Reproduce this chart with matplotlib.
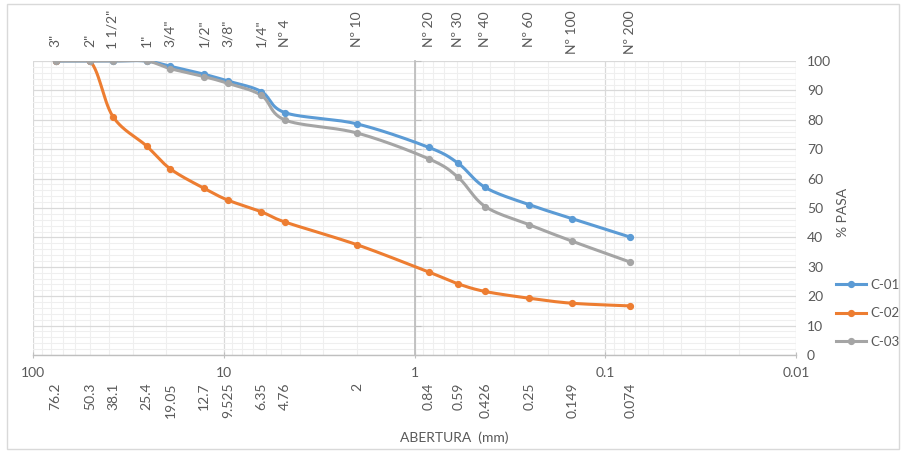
import numpy as np
import matplotlib
matplotlib.use("Agg")
import matplotlib.pyplot as plt
from matplotlib.patches import Rectangle
from matplotlib.ticker import FixedLocator, MultipleLocator, NullFormatter

plt.rcParams['font.family'] = ['Lato', 'DejaVu Sans']

# ── data: sieve series, openings (mm) and % passing ─────────────────────────
aberturas = [76.2, 50.3, 38.1, 25.4, 19.05, 12.7, 9.525, 6.35, 4.76, 2,
             0.84, 0.59, 0.426, 0.25, 0.149, 0.074]
tamices = ['3"', '2"', '1 1/2"', '1"', '3/4"', '1/2"', '3/8"', '1/4"', 'Nº 4',
           'Nº 10', 'Nº 20', 'Nº 30', 'Nº 40', 'Nº 60', 'Nº 100', 'Nº 200']
c01 = [100, 100, 100, 100, 98.2, 95.5, 93.2, 89.6, 82.4, 78.6,
       70.6, 65.2, 57.0, 51.1, 46.4, 40.1]
c02 = [100, 100, 81.1, 71.1, 63.3, 56.7, 52.7, 48.7, 45.2, 37.5,
       28.2, 24.2, 21.6, 19.3, 17.6, 16.7]
c03 = [100, 100, 100, 100, 97.4, 94.7, 92.4, 88.3, 79.9, 75.5,
       66.7, 60.4, 50.5, 44.3, 38.7, 31.6]
decadas = [100, 10, 1, 0.1, 0.01]

series = [("C-01", c01, "#5b9bd5"),
          ("C-02", c02, "#ed7d31"),
          ("C-03", c03, "#a5a5a5")]

TXT = "#595959"
FS = 10
PX_DEC = 190.7   # px per decade on screen
PX_PCT = 2.94    # px per % on screen


def suavizar(x, y, n=30):
    """Catmull-Rom smoothing done in screen-like units (log x)."""
    u = np.log10(np.asarray(x, float)) * PX_DEC
    v = np.asarray(y, float) * PX_PCT
    P = np.column_stack([u, v])
    P = np.vstack([P[0], P, P[-1]])
    out = []
    for i in range(1, len(P) - 2):
        p0, p1, p2, p3 = P[i - 1], P[i], P[i + 1], P[i + 2]
        c1 = p1 + (p2 - p0) / 6
        c2 = p2 - (p3 - p1) / 6
        t = np.linspace(0, 1, n)[:, None]
        seg = ((1 - t) ** 3 * p1 + 3 * (1 - t) ** 2 * t * c1
               + 3 * (1 - t) * t ** 2 * c2 + t ** 3 * p2)
        out.append(seg if i == 1 else seg[1:])
    out = np.vstack(out)
    return 10 ** (out[:, 0] / PX_DEC), out[:, 1] / PX_PCT


fig = plt.figure(figsize=(9.02, 4.51), dpi=100)
fig.patch.set_facecolor("white")
ax = fig.add_axes([33 / 902, 1 - 355 / 451, (796 - 33) / 902, (355 - 61) / 451])

ax.set_xscale("log")
ax.set_xlim(100, 0.01)
ax.set_ylim(0, 100)

# ── grid ─────────────────────────────────────────────────────────────────────
ax.yaxis.set_major_locator(MultipleLocator(10))
ax.yaxis.set_minor_locator(MultipleLocator(2))
ax.xaxis.set_major_locator(FixedLocator(decadas))
ax.xaxis.set_major_formatter(plt.FixedFormatter([f"{d:g}" for d in decadas]))
ax.xaxis.set_minor_formatter(NullFormatter())
ax.grid(which="major", color="#d9d9d9", lw=0.9)
ax.grid(which="minor", color="#efefef", lw=0.8)
ax.set_axisbelow(True)

# value axis crosses at 1 mm, labels on the right
for s in ("top", "right"):
    ax.spines[s].set_visible(False)
ax.spines["left"].set_position(("data", 1))
ax.spines["left"].set_color("#bfbfbf")
ax.spines["left"].set_linewidth(1.3)
ax.spines["bottom"].set_color("#bfbfbf")
ax.spines["bottom"].set_linewidth(1.0)
ax.tick_params(axis="y", which="major", left=True, right=False, direction="in",
               length=4, color="#bfbfbf", labelleft=False, labelright=True,
               labelsize=FS, labelcolor=TXT, pad=8)
ax.tick_params(axis="y", which="minor", left=False, right=False)
ax.tick_params(axis="x", which="major", direction="inout", length=5,
               color="#bfbfbf", labelsize=FS, labelcolor=TXT, pad=6)
ax.tick_params(axis="x", which="minor", length=0)
for lbl in ax.get_yticklabels():
    lbl.set_horizontalalignment("left")

# ── curves ───────────────────────────────────────────────────────────────────
for nombre, vals, col in series:
    xs, ys = suavizar(aberturas, vals)
    ax.plot(xs, ys, color=col, lw=2.2, solid_capstyle="round", zorder=3)
    ax.plot(aberturas, vals, "o", color=col, ms=4.2, zorder=4)
    ax.plot([], [], color=col, lw=2.2, marker="o", ms=4.2, label=nombre)

# sieve names above the plot; long ones are pushed down from the top edge
fig.canvas.draw()
renderer = fig.canvas.get_renderer()
top_lim = 451 - 10
for a, t in zip(aberturas, tamices):
    txt = ax.annotate(t, xy=(a, 1), xycoords=("data", "axes fraction"),
                      xytext=(0, 10), textcoords="offset points",
                      rotation=90, ha="center", va="bottom",
                      fontsize=FS, color=TXT, annotation_clip=False)
    bb = txt.get_window_extent(renderer)
    if bb.y1 > top_lim:
        txt.set_position((0, 10 - (bb.y1 - top_lim) * 72 / fig.dpi))

# sieve openings under the decade labels
bot = ax.secondary_xaxis("bottom")
bot.set_xticks(aberturas, labels=[f"{a:g}" for a in aberturas], rotation=90)
bot.tick_params(length=0, labelsize=FS, labelcolor=TXT, pad=20)
bot.xaxis.set_minor_locator(FixedLocator([]))
bot.spines["bottom"].set_visible(False)

fig.text(454 / 902, 1 - 438 / 451, "ABERTURA  (mm)", ha="center", va="center",
         fontsize=FS, color=TXT)
fig.text(843 / 902, 1 - 212 / 451, "% PASA", ha="center", va="center",
         rotation=90, fontsize=FS, color=TXT)

fig.legend(loc="upper left", bbox_to_anchor=(836 / 902, 1 - 279 / 451),
           frameon=False, fontsize=9.5, labelcolor=TXT, handlelength=2.3,
           handletextpad=0.3, labelspacing=1.25, borderpad=0, borderaxespad=0)

# chart border
fig.patches.append(Rectangle((7 / 902, 2 / 451), 892 / 902, 445 / 451,
                             transform=fig.transFigure, fill=False,
                             edgecolor="#d9d9d9", lw=1.0))

fig.savefig("out.png", dpi=100)
